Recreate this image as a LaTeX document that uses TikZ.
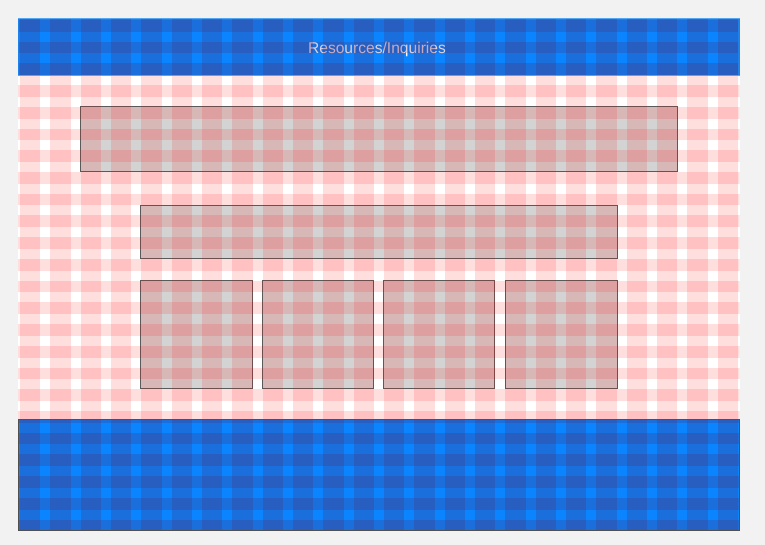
\documentclass[tikz,border=0pt]{standalone}
\usepackage{fontspec}
\setmainfont{Liberation Sans}
\definecolor{bgc}{HTML}{F2F2F2}
\definecolor{blubase}{HTML}{0A84FF}
\definecolor{bluov}{RGB}{95,27,80}
\definecolor{redov}{HTML}{FF0000}
\definecolor{boxfill}{HTML}{D3D3D3}
\definecolor{boxline}{HTML}{5A5A5A}
\definecolor{hdrline}{HTML}{55A6F2}
\definecolor{hdrside}{HTML}{1E82EA}
\definecolor{ftrline}{HTML}{505050}
\tikzset{
  contentbox/.style={fill=boxfill, draw=boxline, line width=0.8pt},
  blueband/.style={fill=bluov, fill opacity=0.2},
  redband/.style={fill=redov, fill opacity=0.13},
}
\newcommand{\gridbands}[1]{%
  \foreach \k in {0,...,23}{
    \fill[#1] ({20+30.333*\k},18) rectangle ++(20.333,513);
    \fill[#1] (18,{20+21.72*\k}) rectangle ++(722,11.72);
  }%
}
\begin{document}
\begin{tikzpicture}[x=1pt,y=-1pt]
  \useasboundingbox (0,0) rectangle (765,545);
  \fill[bgc] (0,0) rectangle (765,545);
  % base regions
  \fill[blubase] (18,18) rectangle (739.5,76);
  \fill[white] (18,76) rectangle (739.5,419);
  \fill[blubase] (18,419) rectangle (739.5,531);
  % content boxes
  \draw[contentbox] (80,106) rectangle (677,171);
  \draw[contentbox] (140,205) rectangle (617,258);
  \draw[contentbox] (140,280) rectangle (252,388);
  \draw[contentbox] (262,280) rectangle (373,388);
  \draw[contentbox] (383,280) rectangle (494,388);
  \draw[contentbox] (505,280) rectangle (617,388);
  % header title
  \node[text=white, font=\fontsize{15.6}{18}\selectfont, anchor=base] (title) at (377,53.3) {Resources/Inquiries};
  % layout grid overlay
  \begin{scope}
    \clip (18,18) rectangle (739.5,76) (18,419) rectangle (739.5,531);
    \gridbands{blueband}
  \end{scope}
  \begin{scope}
    \clip (18,76) rectangle (739.5,419);
    \gridbands{redband}
  \end{scope}
  % region borders
  \draw[hdrside, line width=1.2pt] (18.6,18) -- (18.6,76) (738.9,18) -- (738.9,76);
  \draw[hdrline, line width=1.2pt] (18,18.6) -- (739.5,18.6);
  \draw[hdrline, line width=1.6pt] (18,75.4) -- (739.5,75.4);
  \draw[ftrline, line width=1pt] (18.5,419.5) rectangle (739,530.8);
\end{tikzpicture}
\end{document}
